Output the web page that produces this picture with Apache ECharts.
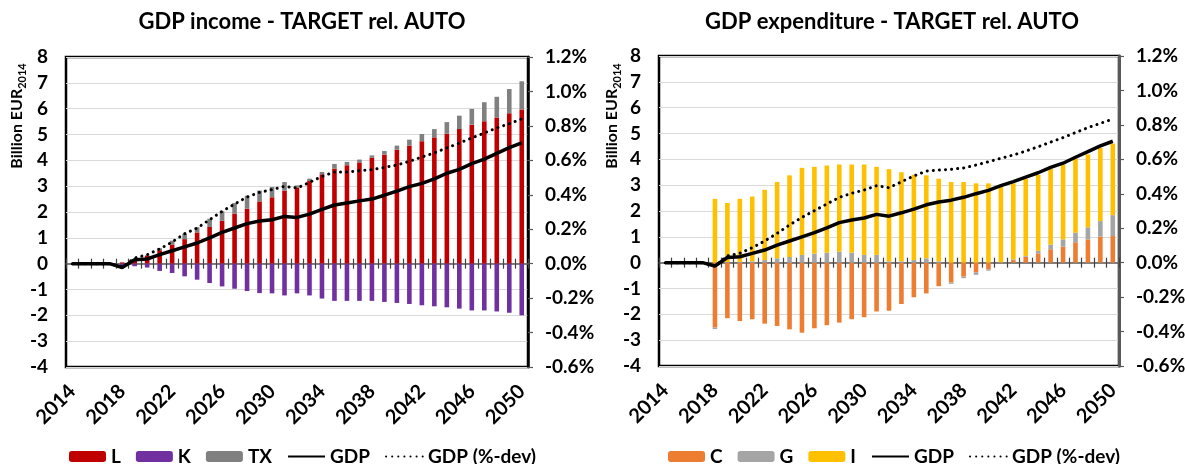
<!DOCTYPE html>
<html>
<head>
<meta charset="utf-8">
<script src="https://cdn.jsdelivr.net/npm/echarts@6/dist/echarts.min.js"></script>
<style>
  html, body { margin: 0; padding: 0; background: #fff; }
  #main { width: 1185px; height: 464px; }
</style>
</head>
<body>
<div id="main"></div>
<script>
// years 2014..2050
const years = [];
for (let y = 2014; y <= 2050; y++) years.push(String(y));

// GDP income (billion EUR2014)
const incomeL = [0, 0, 0, 0, 0.05, 0.15, 0.31, 0.52, 0.74, 0.95, 1.21, 1.42, 1.66, 1.94, 2.13, 2.41, 2.57, 2.83, 2.95, 3.2, 3.46, 3.68, 3.81, 3.92, 4.1, 4.22, 4.41, 4.57, 4.74, 4.89, 5.03, 5.21, 5.38, 5.51, 5.66, 5.82, 5.97]
const incomeK = [0, 0, 0, 0, -0.1, -0.1, -0.15, -0.28, -0.36, -0.49, -0.62, -0.75, -0.88, -0.97, -1.06, -1.14, -1.15, -1.23, -1.15, -1.23, -1.35, -1.44, -1.44, -1.44, -1.44, -1.48, -1.52, -1.56, -1.61, -1.65, -1.69, -1.74, -1.81, -1.81, -1.85, -1.9, -2.0]
const incomeTX = [0, 0, 0, 0, 0, 0, 0.02, 0.08, 0.15, 0.21, 0.2, 0.32, 0.37, 0.41, 0.5, 0.42, 0.4, 0.33, 0.08, 0.09, 0.09, 0.18, 0.13, 0.11, 0.09, 0.14, 0.16, 0.23, 0.28, 0.32, 0.45, 0.52, 0.61, 0.74, 0.8, 0.94, 1.09]
const incomeGDP = [0, 0, 0, 0, -0.15, 0.15, 0.18, 0.35, 0.5, 0.65, 0.8, 1.0, 1.21, 1.38, 1.55, 1.65, 1.7, 1.83, 1.79, 1.92, 2.1, 2.27, 2.35, 2.43, 2.5, 2.65, 2.81, 2.98, 3.11, 3.28, 3.5, 3.65, 3.87, 4.05, 4.27, 4.49, 4.68]
const incomeDev = [0, 0, 0, 0, -0.02, 0.033, 0.052, 0.085, 0.126, 0.174, 0.207, 0.255, 0.304, 0.346, 0.387, 0.414, 0.43, 0.449, 0.439, 0.472, 0.507, 0.532, 0.532, 0.54, 0.546, 0.559, 0.573, 0.594, 0.619, 0.643, 0.672, 0.7, 0.73, 0.759, 0.788, 0.813, 0.84]

// GDP expenditure (billion EUR2014)
const expC = [0, 0, 0, 0, -2.51, -2.15, -2.26, -2.19, -2.36, -2.45, -2.58, -2.71, -2.54, -2.42, -2.32, -2.19, -2.11, -1.89, -1.86, -1.6, -1.34, -1.19, -0.91, -0.77, -0.54, -0.37, -0.26, -0.02, 0.1, 0.23, 0.36, 0.52, 0.62, 0.79, 0.9, 1.01, 1.03]
const expG = [0, 0, 0, 0, -0.06, 0.02, 0.03, 0.05, 0.1, 0.17, 0.22, 0.3, 0.35, 0.39, 0.43, 0.39, 0.3, 0.3, 0.05, 0.05, 0.1, 0.17, 0.05, -0.05, -0.06, -0.1, -0.05, 0.02, 0.03, 0.03, 0.1, 0.18, 0.28, 0.37, 0.47, 0.6, 0.81]
const expI = [0, 0, 0, 0, 2.47, 2.29, 2.44, 2.51, 2.72, 2.95, 3.16, 3.37, 3.36, 3.37, 3.37, 3.41, 3.5, 3.41, 3.57, 3.45, 3.31, 3.21, 3.2, 3.12, 3.12, 3.07, 3.07, 2.97, 2.94, 2.99, 2.94, 2.93, 2.9, 2.87, 2.82, 2.84, 2.77]
const expGDP = [0, 0, 0, 0, -0.13, 0.2, 0.23, 0.36, 0.49, 0.68, 0.84, 1.0, 1.16, 1.35, 1.55, 1.65, 1.73, 1.87, 1.8, 1.93, 2.07, 2.24, 2.35, 2.42, 2.53, 2.67, 2.8, 2.98, 3.14, 3.31, 3.48, 3.69, 3.85, 4.08, 4.3, 4.52, 4.7]
const expDev = [0, 0, 0, 0, -0.02, 0.039, 0.054, 0.087, 0.126, 0.17, 0.219, 0.263, 0.302, 0.341, 0.379, 0.403, 0.422, 0.447, 0.435, 0.47, 0.503, 0.532, 0.538, 0.542, 0.55, 0.567, 0.586, 0.606, 0.625, 0.648, 0.673, 0.7, 0.726, 0.755, 0.784, 0.809, 0.834]

const FONT = 'Lato'
const myChart = echarts.init(document.getElementById('main'), null, { renderer: 'canvas' })

// x axes: labels at the bottom, zero line with ticks both ways
function xAxes(gridIndex) {
  return [
    {
      gridIndex, type: 'category', data: years, position: 'bottom',
      axisLine: { show: false, onZero: false },
      axisTick: { show: false },
      axisLabel: {
        interval: 3, rotate: 45, margin: 21,
        fontFamily: FONT, fontWeight: 'bold', fontSize: 20, color: '#000'
      }
    },
    {
      gridIndex, type: 'category', data: years, position: 'bottom',
      axisLine: { show: true, onZero: true, onZeroAxisIndex: gridIndex * 2, lineStyle: { color: '#595959', width: 1.5 } },
      axisTick: { show: true, interval: 0, length: 5, lineStyle: { color: '#404040', width: 1.2 } },
      axisLabel: { show: false }
    },
    {
      gridIndex, type: 'category', data: years, position: 'top',
      axisLine: { show: false, onZero: true, onZeroAxisIndex: gridIndex * 2 },
      axisTick: { show: true, interval: 0, length: 5, lineStyle: { color: '#404040', width: 1.2 } },
      axisLabel: { show: false }
    }
  ]
}

function yAxes(gridIndex, rightColor, rightWidth) {
  return [
    {
      gridIndex, type: 'value', position: 'left', min: -4, max: 8, interval: 1,
      axisLine: { show: false },
      axisTick: { show: false },
      splitLine: { show: true, lineStyle: { color: '#D9D9D9', width: 1 } },
      axisLabel: { margin: 18, fontFamily: FONT, fontWeight: 'bold', fontSize: 19, color: '#000' }
    },
    {
      gridIndex, type: 'value', position: 'right', min: -0.6, max: 1.2, interval: 0.2,
      axisLine: { show: true, lineStyle: { color: rightColor, width: rightWidth } },
      axisTick: { show: true, length: 5, lineStyle: { color: '#595959', width: 1.2 } },
      splitLine: { show: false },
      axisLabel: {
        margin: 17, fontFamily: FONT, fontWeight: 'bold', fontSize: 19, color: '#000',
        formatter: v => v.toFixed(1) + '%'
      }
    }
  ]
}

const BAR_W = 4.6
function bar(name, data, color, xi, yi) {
  return {
    name, type: 'bar', stack: 'tot' + xi, xAxisIndex: xi, yAxisIndex: yi,
    data, barWidth: BAR_W, itemStyle: { color }
  }
}
function gdpLine(name, data, xi, yi) {
  return {
    name, type: 'line', xAxisIndex: xi, yAxisIndex: yi, data,
    symbol: 'none', lineStyle: { color: '#000', width: 3.5 }, itemStyle: { color: '#000' }, z: 5
  }
}
function devLine(name, data, xi, yi) {
  return {
    name, type: 'line', xAxisIndex: xi, yAxisIndex: yi, data,
    symbol: 'none', lineStyle: { color: '#000', width: 3, type: [0.1, 6], cap: 'round' }, itemStyle: { color: '#000' }, z: 4
  }
}

const legendText = { fontFamily: FONT, fontWeight: 'bold', fontSize: 19, color: '#000' }
// line entries: hide the legend marker dot, keep the line
const noDot = { opacity: 0 }
function legendData(names) {
  return names.map(n => (n.startsWith('GDP') ? { name: n, itemStyle: noDot } : n))
}

function yName(x) {
  return {
    type: 'text', x, y: 116, rotation: Math.PI / 2,
    style: {
      text: '{a|Billion EUR}{b|2014}',
      align: 'center', verticalAlign: 'middle',
      rich: {
        a: { fontFamily: FONT, fontWeight: 'bold', fontSize: 16, color: '#000', lineHeight: 22 },
        b: { fontFamily: FONT, fontWeight: 'bold', fontSize: 11, color: '#000', lineHeight: 22, verticalAlign: 'bottom' }
      }
    }
  }
}

myChart.setOption({
  animation: false,
  backgroundColor: '#fff',
  title: [
    { text: 'GDP income - TARGET rel. AUTO', left: 297, top: 6, textAlign: 'center',
      textStyle: { fontFamily: FONT, fontWeight: 'bold', fontSize: 22, color: '#000' } },
    { text: 'GDP expenditure - TARGET rel. AUTO', left: 887, top: 6, textAlign: 'center',
      textStyle: { fontFamily: FONT, fontWeight: 'bold', fontSize: 22, color: '#000' } }
  ],
  grid: [
    { left: 66, top: 57, width: 462, height: 310, show: true, borderColor: '#000', borderWidth: 2.5, outerBoundsMode: 'none' },
    { left: 659, top: 56, width: 460, height: 310, show: true, borderColor: '#000', borderWidth: 2.5, outerBoundsMode: 'none' }
  ],
  xAxis: [...xAxes(0), ...xAxes(1)],
  yAxis: [...yAxes(0, '#000', 2.5), ...yAxes(1, '#595959', 3)],
  legend: [
    { data: legendData(['L', 'K', 'TX', 'GDP', 'GDP (%-dev)']), left: 64, top: 442, itemWidth: 37, itemHeight: 11,
      itemGap: 15, textStyle: legendText, selectedMode: false },
    { data: legendData(['C', 'G', 'I', 'GDP', 'GDP (%-dev)']), left: 663, top: 442, itemWidth: 37, itemHeight: 11,
      itemGap: 15, textStyle: legendText, selectedMode: false }
  ],
  graphic: [yName(17), yName(612)],
  series: [
    bar('L', incomeL, '#C00000', 0, 0),
    bar('K', incomeK, '#7030A0', 0, 0),
    bar('TX', incomeTX, '#808080', 0, 0),
    gdpLine('GDP', incomeGDP, 0, 0),
    devLine('GDP (%-dev)', incomeDev, 0, 1),
    bar('C', expC, '#ED7D31', 3, 2),
    bar('G', expG, '#A5A5A5', 3, 2),
    bar('I', expI, '#FFC000', 3, 2),
    gdpLine('GDP', expGDP, 3, 2),
    devLine('GDP (%-dev)', expDev, 3, 3)
  ]
})
</script>
</body>
</html>
